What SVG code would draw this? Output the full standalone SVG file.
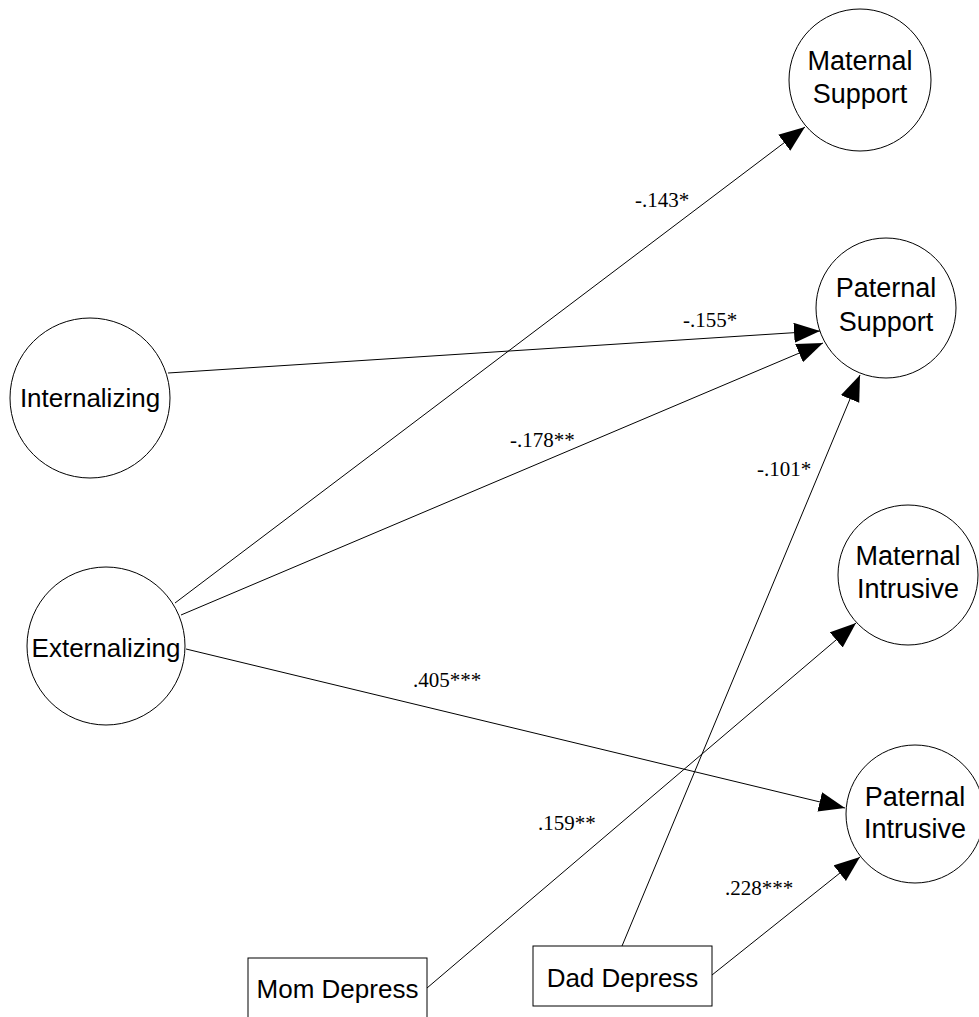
<svg xmlns="http://www.w3.org/2000/svg" width="979" height="1017" viewBox="0 0 979 1017">
<style>
.node{fill:#fff;stroke:#000;stroke-width:1}
.t{font-family:"Liberation Sans",Arial,sans-serif;font-size:26px;fill:#000;text-anchor:middle}
.t2{font-family:"Liberation Sans",Arial,sans-serif;font-size:27px;fill:#000;text-anchor:middle}
.lbl{font-family:"Liberation Serif","Times New Roman",serif;font-size:21px;fill:#000}
.edge{stroke:#000;stroke-width:1;fill:none;marker-end:url(#arr)}
</style>
<defs>
<marker id="arr" markerUnits="userSpaceOnUse" markerWidth="28" markerHeight="22" refX="26" refY="10" orient="auto">
<path d="M0,0 L26,10 L0,20 z" fill="#000"/>
</marker>
</defs>
<rect width="979" height="1017" fill="#fff"/>
<g id="connectors">
<line class="edge" x1="175" y1="603" x2="805" y2="127"/>
<line class="edge" x1="181" y1="615" x2="823" y2="343"/>
<line class="edge" x1="168" y1="373" x2="820" y2="331"/>
<line class="edge" x1="186" y1="649" x2="845" y2="808"/>
<line class="edge" x1="622" y1="946" x2="860" y2="375"/>
<line class="edge" x1="427" y1="988" x2="856" y2="623"/>
<line class="edge" x1="712" y1="975" x2="860" y2="857"/>
<text class="lbl" x="635" y="207">-.143*</text>
<text class="lbl" x="683" y="327">-.155*</text>
<text class="lbl" x="510" y="447">-.178**</text>
<text class="lbl" x="757" y="476">-.101*</text>
<text class="lbl" x="413" y="687">.405***</text>
<text class="lbl" x="538" y="830">.159**</text>
<text class="lbl" x="725" y="895">.228***</text>
</g>
<g id="maternal-support">
<circle class="node" cx="860" cy="80" r="71"/>
<text class="t2" x="860" y="70">Maternal</text>
<text class="t2" x="860" y="103">Support</text>
</g>
<g id="paternal-support">
<circle class="node" cx="886" cy="308" r="70"/>
<text class="t2" x="886" y="297">Paternal</text>
<text class="t2" x="886" y="331">Support</text>
</g>
<g id="maternal-intrusive">
<circle class="node" cx="908" cy="575" r="70"/>
<text class="t2" x="908" y="565">Maternal</text>
<text class="t2" x="908" y="598">Intrusive</text>
</g>
<g id="paternal-intrusive">
<circle class="node" cx="915" cy="814" r="69"/>
<text class="t2" x="915" y="806">Paternal</text>
<text class="t2" x="915" y="838">Intrusive</text>
</g>
<g id="internalizing">
<circle class="node" cx="90" cy="398" r="80"/>
<text class="t" x="90" y="407">Internalizing</text>
</g>
<g id="externalizing">
<circle class="node" cx="106" cy="646" r="79"/>
<text class="t" x="106" y="657">Externalizing</text>
</g>
<g id="mom-depress">
<rect class="node" x="248" y="958" width="179" height="64"/>
<text class="t" x="337.5" y="998">Mom Depress</text>
</g>
<g id="dad-depress">
<rect class="node" x="533" y="946" width="179" height="60"/>
<text class="t" x="622.5" y="987">Dad Depress</text>
</g>
</svg>
